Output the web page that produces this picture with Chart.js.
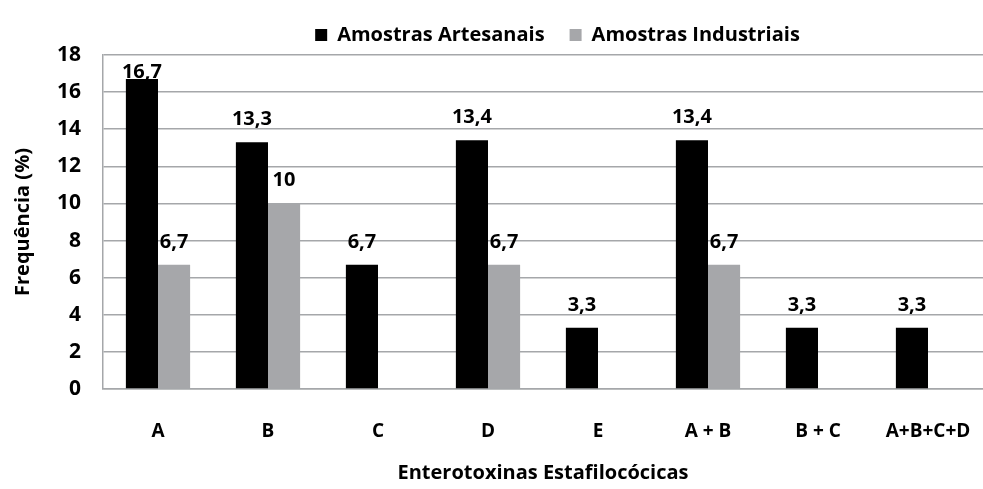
<!DOCTYPE html>
<html>
<head>
<meta charset="utf-8">
<script src="https://cdn.jsdelivr.net/npm/chart.js@4"></script>
<style>
  html, body { margin: 0; padding: 0; background: #ffffff; }
  #wrap { width: 983px; height: 489px; }
</style>
</head>
<body>
<div id="wrap"><canvas id="chart"></canvas></div>
<script>
const categories = ['A', 'B', 'C', 'D', 'E', 'A + B', 'B + C', 'A+B+C+D'];
const artesanais = [16.7, 13.3, 6.7, 13.4, 3.3, 13.4, 3.3, 3.3];
const industriais = [6.7, 10, null, 6.7, null, 6.7, null, null];
const yTicks = [0, 2, 4, 6, 8, 10, 12, 14, 16, 18];

const FONT = '"Open Sans", Lato, sans-serif';

// value labels above bars, with comma decimals
const valueLabels = {
    id: 'valueLabels',
    afterDatasetsDraw(chart) {
        const ctx = chart.ctx;
        ctx.save();
        ctx.font = 'bold 20px ' + FONT;
        ctx.fillStyle = '#000';
        ctx.textAlign = 'center';
        ctx.textBaseline = 'alphabetic';
        chart.data.datasets.forEach((ds, i) => {
            chart.getDatasetMeta(i).data.forEach((bar, j) => {
                const v = ds.data[j];
                if (v === null) return;
                const y = Math.max(bar.y - 17, chart.chartArea.top + 23);
                ctx.fillText(String(v).replace('.', ','), bar.x, y);
            });
        });
        ctx.restore();
    }
};

// legend sits a bit right of centre in the original
const legendShift = {
    id: 'legendShift',
    afterLayout(chart) {
        chart.legend.left += 66;
        chart.legend.right += 66;
    }
};

const chart = document.getElementById('chart').getContext('2d');
new Chart(chart, {
    type: 'bar',
    data: {
        labels: categories,
        datasets: [{
            label: 'Amostras Artesanais',
            data: artesanais,
            backgroundColor: '#000000',
        }, {
            label: 'Amostras Industriais',
            data: industriais,
            backgroundColor: '#a6a7aa',
        }]
    },
    options: {
        responsive: true,
        maintainAspectRatio: false,
        animation: false,
        categoryPercentage: 0.584,
        barPercentage: 1,
        layout: { padding: 0 },
        scales: {
            y: {
                min: 0,
                max: 18,
                afterBuildTicks: (scale) => { scale.ticks = yTicks.map(v => ({ value: v })); },
                afterFit: (scale) => { scale.width = 103; },
                ticks: {
                    padding: 22,
                    color: '#000',
                    font: { size: 21, weight: 'bold', family: FONT }
                },
                grid: { color: '#a5a7aa', lineWidth: 1.5, drawTicks: false },
                border: { color: '#a5a7aa', width: 1.5 },
                title: {
                    display: true,
                    text: 'Frequência (%)',
                    color: '#000',
                    padding: { top: 11, bottom: 0 },
                    font: { size: 20, weight: 'bold', family: FONT }
                }
            },
            x: {
                afterFit: (scale) => {
                    scale.height = 100;
                    scale.paddingLeft = 0;
                    scale.paddingRight = 0;
                },
                ticks: {
                    padding: 31,
                    maxRotation: 0,
                    color: '#000',
                    font: { size: 19, weight: 'bold', family: FONT }
                },
                grid: { display: false, drawTicks: false },
                border: { color: '#a5a7aa', width: 1.5 },
                title: {
                    display: true,
                    text: 'Enterotoxinas Estafilocócicas',
                    color: '#000',
                    padding: { top: 0, bottom: 4 },
                    font: { size: 20, weight: 'bold', family: FONT }
                }
            }
        },
        plugins: {
            legend: {
                position: 'top',
                labels: {
                    boxWidth: 12,
                    boxHeight: 12,
                    padding: 25,
                    color: '#000',
                    font: { size: 20, weight: 'bold', family: FONT }
                }
            },
            tooltip: { enabled: false }
        }
    },
    plugins: [valueLabels, legendShift]
});
</script>
</body>
</html>
